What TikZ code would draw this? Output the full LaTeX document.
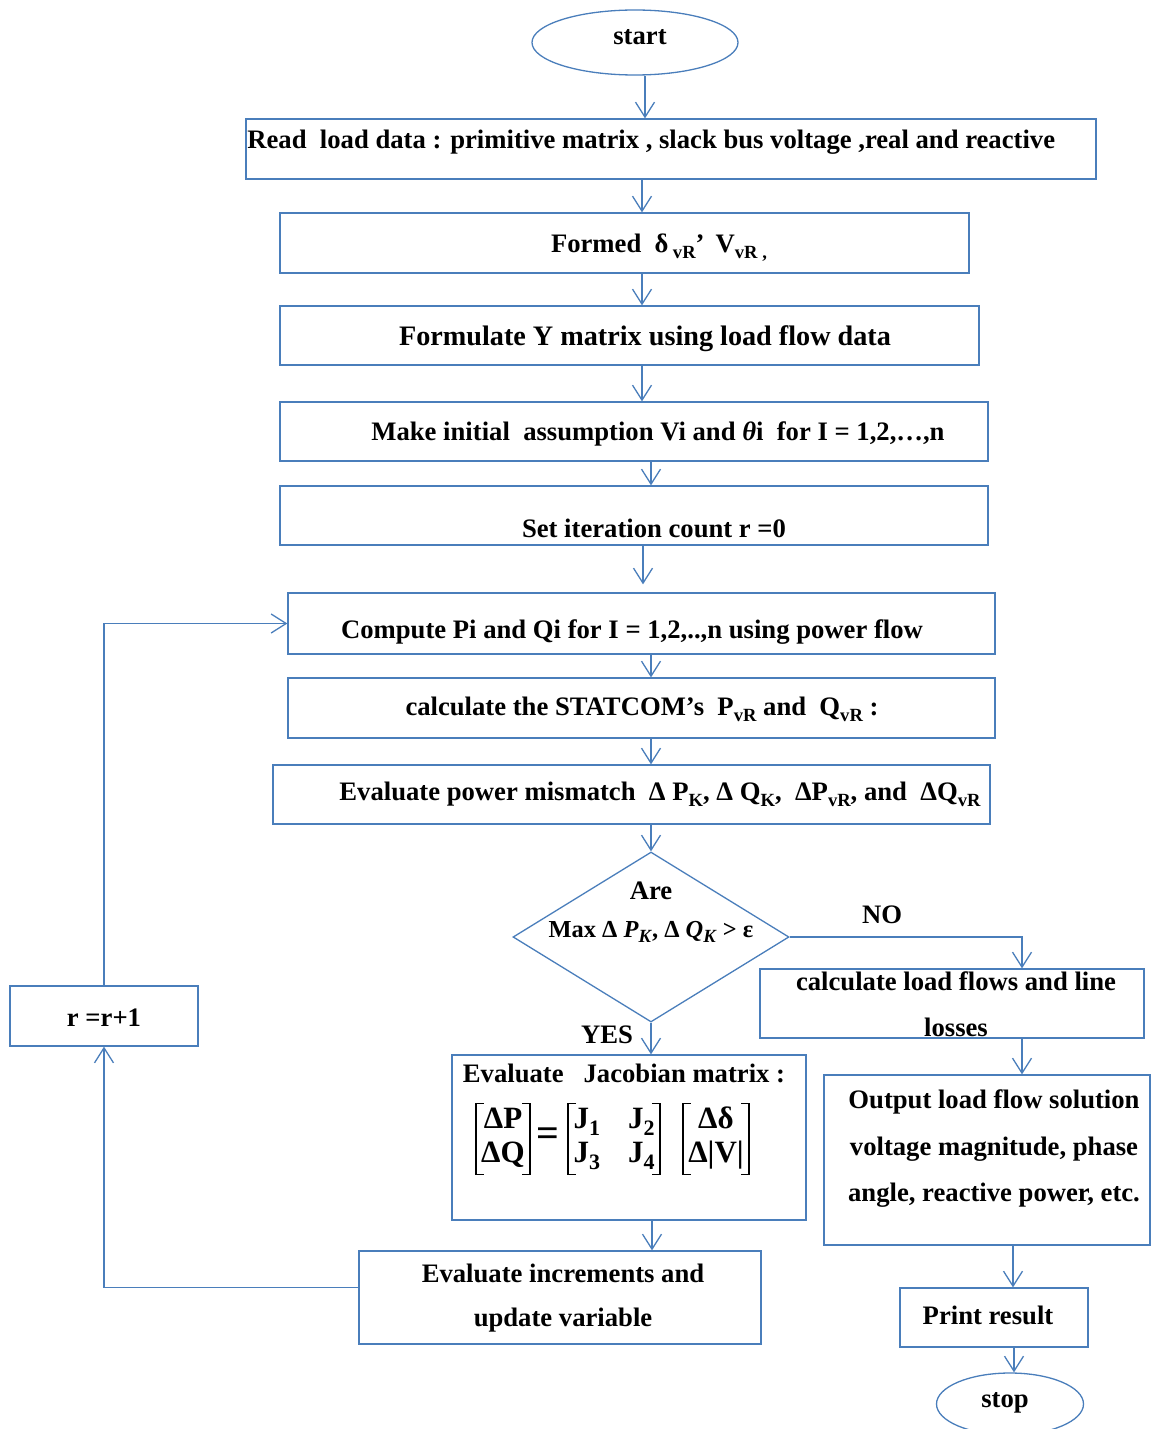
\documentclass[tikz,border=0pt]{standalone}
\usepackage{fontspec}
\setmainfont{Liberation Serif}
\usetikzlibrary{arrows.meta,shapes.geometric,fit}
\definecolor{lineblue}{RGB}{74,126,187}
\newcommand{\lowx}[1]{\raisebox{-0.5ex}{\fontsize{9.3}{10}\selectfont #1}}
\newcommand{\lowy}[1]{\raisebox{-0.45ex}{\fontsize{11}{12}\selectfont #1}}
\newsavebox{\colAbox}
\newsavebox{\colBbox}
\newsavebox{\colCbox}
\AtBeginDocument{%
\sbox{\colAbox}{\fontsize{15.5}{17}\selectfont\bfseries\begin{tabular}{@{}c@{}}ΔP\\ΔQ\end{tabular}}%
\sbox{\colBbox}{\fontsize{15.5}{17}\selectfont\bfseries\begin{tabular}{@{}l@{\hspace{14pt}}l@{}}J\lowy{1} & J\lowy{2}\\ J\lowy{3} & J\lowy{4}\end{tabular}}%
\sbox{\colCbox}{\fontsize{15.5}{17}\selectfont\bfseries\begin{tabular}{@{}c@{}}Δδ\\Δ|V|\end{tabular}}}
\begin{document}
\begin{tikzpicture}[x=0.5pt,y=-0.5pt,
  every node/.style={font=\fontsize{13.33}{15}\selectfont\bfseries, inner sep=0pt},
  box/.style={draw=lineblue, line width=0.65pt, inner sep=0pt, rectangle},
  term/.style={draw=lineblue, line width=0.65pt, ellipse, inner sep=0pt},
  arr/.style={draw=lineblue, line width=0.65pt, -{Straight Barb[length=7.5pt,width=9.5pt]}},
  mat/.style={inner xsep=2.5pt, inner ysep=0.5pt},
  brk/.style={draw=black, line width=0.75pt}]
\useasboundingbox (0,0) rectangle (1156,1429);

% column coordinates
\coordinate (x645) at (645,0);
\coordinate (x642) at (642,0);
\coordinate (x651) at (651,0);
\coordinate (x643) at (643,0);
\coordinate (x652) at (652,0);
\coordinate (x104) at (104,0);
\coordinate (x1022) at (1022,0);
\coordinate (x1013) at (1013,0);
\coordinate (x1014) at (1014,0);

% shapes
\node[term, minimum width=103pt, minimum height=32.5pt] (st) at (635,42.5) {};
\node[box, fit={(246,119) (1096,179)}] (b1) {};
\node[box, fit={(280,213) (969,273)}] (b2) {};
\node[box, fit={(280,306) (979,365)}] (b3) {};
\node[box, fit={(280,402) (988,461)}] (b4) {};
\node[box, fit={(280,486) (988,545)}] (b5) {};
\node[box, fit={(288,593) (995,654)}] (b6) {};
\node[box, fit={(288,678) (995,738)}] (b7) {};
\node[box, fit={(273,765) (990,824)}] (b8) {};
\node[draw=lineblue, line width=0.65pt, diamond, minimum width=138pt, minimum height=85pt, inner sep=0pt] (dia) at (651,937) {};
\node[box, fit={(760,969) (1144,1038)}] (b9) {};
\node[box, fit={(824,1075) (1150,1245)}] (out) {};
\node[box, fit={(900,1288) (1088,1347)}] (prt) {};
\node[term, minimum width=73.5pt, minimum height=31pt] (sp) at (1010,1404) {};
\node[box, fit={(452,1055) (806,1220)}] (jac) {};
\node[box, fit={(359,1251) (761,1344)}] (inc) {};
\node[box, fit={(10,986) (198,1046)}] (rr) {};

% texts
\node (tst) at (640,37) {start};
\node[anchor=west] (t1) at (247,142) {Read \ load data : primitive matrix , slack bus voltage ,real and reactive};
\node (t2) at (659,248) {Formed \ δ\,\lowx{vR}’ \,V\lowx{vR ,}};
\node[font=\fontsize{14.1}{16}\selectfont\bfseries] (t3) at (645,339) {Formulate Y matrix using load flow data};
\node (t4) at (658,434) {Make initial \ assumption Vi and \textit{θ}i \ for I = 1,2,…,n};
\node (t5) at (654,528) {Set iteration count r =0};
\node (t6) at (632,632) {Compute Pi and Qi for I = 1,2,..,n using power flow};
\node (t7) at (642,709) {calculate the STATCOM's \ P\lowx{vR} and \ Q\lowx{vR} :};
\node (t8) at (660,794) {Evaluate power mismatch \ Δ P\lowx{K}, Δ Q\lowx{K}, \ ΔP\lowx{vR}, and \ ΔQ\lowx{vR}};
\node (tare) at (651,891) {Are};
\node[font=\fontsize{12.2}{14}\selectfont\bfseries] (tmax) at (651,932) {Max Δ \textit{P}\lowx{\textit{K}}, Δ \textit{Q}\lowx{\textit{K}} > ε};
\node (tno) at (882,915) {NO};
\node (tyes) at (607,1035) {YES};
\node (t9a) at (956,981) {calculate load flows and line};
\node (t9b) at (956,1027) {losses};
\node (tja) at (624,1073) {Evaluate \ \ Jacobian matrix :};
\node (to1) at (994,1102) {Output load flow solution};
\node (to2) at (994,1149) {voltage magnitude, phase};
\node (to3) at (994,1195) {angle, reactive power, etc.};
\node (tpr) at (988,1315) {Print result};
\node (tsp) at (1005,1403) {stop};
\node (ti1) at (563,1273) {Evaluate increments and};
\node (ti2) at (563,1320) {update variable};
\node (trr) at (104,1018) {r =r+1};

% Jacobian equation
\node[mat] (mA) at (503,1139) {\usebox{\colAbox}};
\node[font=\fontsize{20}{20}\selectfont\bfseries] (meq) at (548,1137) {=};
\node[mat] (mB) at (614,1139) {\usebox{\colBbox}};
\node[mat] (mC) at (716,1139) {\usebox{\colCbox}};
\foreach \m in {mA,mB,mC}{
  \draw[brk] ([xshift=4pt]\m.north west) -- (\m.north west) -- (\m.south west) -- ([xshift=4pt]\m.south west);
  \draw[brk] ([xshift=-4pt]\m.north east) -- (\m.north east) -- (\m.south east) -- ([xshift=-4pt]\m.south east);
}

% connectors
\draw[arr] (x645 |- st.south) -- (x645 |- b1.north);
\draw[arr] (x642 |- b1.south) -- (x642 |- b2.north);
\draw[arr] (x642 |- b2.south) -- (x642 |- b3.north);
\draw[arr] (x642 |- b3.south) -- (x642 |- b4.north);
\draw[arr] (x651 |- b4.south) -- (x651 |- b5.north);
\draw[arr] (x643 |- b5.south) -- ([yshift=4pt]x643 |- b6.north);
\draw[arr] (x651 |- b6.south) -- (x651 |- b7.north);
\draw[arr] (x651 |- b7.south) -- (x651 |- b8.north);
\draw[arr] (x651 |- b8.south) -- (dia.north);
\draw[arr] (dia.east) -- (x1022 |- dia.east) -- (x1022 |- b9.north);
\draw[arr] (dia.south) -- (dia.south |- jac.north);
\draw[arr] (x1022 |- b9.south) -- (x1022 |- out.north);
\draw[arr] (x1013 |- out.south) -- (x1013 |- prt.north);
\draw[arr] (x1014 |- prt.south) -- (x1014 |- sp.north);
\draw[arr] (x652 |- jac.south) -- (x652 |- inc.north);
\draw[arr] ([yshift=5pt]inc.west) -- ([yshift=5pt]x104 |- inc.west) -- (rr.south);
\draw[arr] (rr.north) -- (x104 |- b6.west) -- (b6.west);
\end{tikzpicture}
\end{document}
